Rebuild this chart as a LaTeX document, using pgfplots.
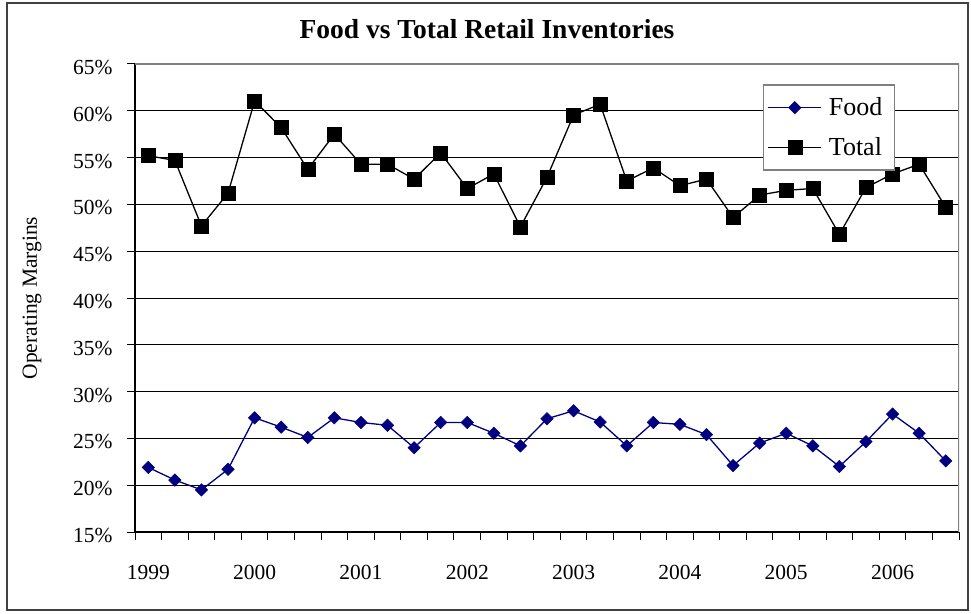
\documentclass[border=0pt]{standalone}
\usepackage{pgfplots}
\pgfplotsset{compat=1.18}
\usepackage{fontspec}
\setmainfont{Liberation Serif}
\definecolor{foodblue}{RGB}{0,0,128}
\definecolor{framegray}{RGB}{128,128,128}
\begin{document}
\begin{tikzpicture}
\useasboundingbox (0pt,0pt) rectangle (971pt,613pt);
\draw[line width=1.5pt, draw=black!75] (7pt,3pt) rectangle (968pt,610pt);
\node[font=\fontsize{27.5}{30}\selectfont\bfseries] at (487pt,584pt) {Food vs Total Retail Inventories};
\begin{axis}[
  at={(135pt,81pt)}, anchor=south west,
  width=824pt, height=468pt, scale only axis,
  xmin=-0.5, xmax=30.5, ymin=15, ymax=65,
  axis lines*=left,
  axis line style={line width=1.2pt, black},
  tick style={line width=1pt, black},
  tick align=outside,
  major tick length=8pt,
  xtick={-0.5,0.5,...,30.5},
  xticklabels={},
  extra x ticks={0,4,...,28},
  extra x tick labels={1999,2000,2001,2002,2003,2004,2005,2006},
  extra x tick style={major tick length=0pt, xticklabel style={yshift=-30pt}},
  ytick={15,20,...,65},
  yticklabels={15\%,20\%,25\%,30\%,35\%,40\%,45\%,50\%,55\%,60\%,65\%},
  yticklabel style={xshift=-11pt, yshift=-3.5pt},
  ymajorgrids,
  major grid style={line width=1pt, black},
  ticklabel style={font=\fontsize{21.5}{24}\selectfont},
  /pgf/number format/assume math mode=true,
  ylabel={Operating Margins},
  every axis y label/.style={at={(axis description cs:-0.125,0.5)}, rotate=90, anchor=center, font=\fontsize{21.5}{24}\selectfont},
  legend style={at={(axis description cs:0.9223,0.9566)}, anchor=north east,
    draw=framegray, line width=1.2pt, font=\fontsize{26}{28}\selectfont,
    inner xsep=4pt, inner ysep=10pt, row sep=14pt, column sep=4pt,
    nodes={inner sep=3pt}},
  legend cell align=left,
  legend image code/.code={\draw[#1, mark repeat=2, mark phase=2] plot coordinates {(0pt,0pt) (26.5pt,0pt) (53pt,0pt)};},
]
\addplot[color=foodblue, line width=1.3pt, mark=square*, mark size=4.4pt, mark options={rotate=45, fill=foodblue, draw=foodblue, line width=0.5pt}]
coordinates {
(0,21.9) (1,20.55) (2,19.5) (3,21.7) (4,27.2) (5,26.2) (6,25.1) (7,27.2)
(8,26.7) (9,26.4) (10,24.0) (11,26.7) (12,26.7) (13,25.55) (14,24.2) (15,27.1)
(16,27.95) (17,26.75) (18,24.2) (19,26.7) (20,26.5) (21,25.4) (22,22.1) (23,24.5)
(24,25.55) (25,24.2) (26,22.0) (27,24.65) (28,27.6) (29,25.55) (30,22.6)
};
\addlegendentry{Food\hspace*{5pt}}
\addplot[color=black, line width=1.3pt, mark=square*, mark size=7pt, mark options={fill=black, line width=0.5pt}]
coordinates {
(0,55.2) (1,54.7) (2,47.7) (3,51.2) (4,61.05) (5,58.2) (6,53.75) (7,57.5)
(8,54.3) (9,54.3) (10,52.7) (11,55.5) (12,51.7) (13,53.25) (14,47.6) (15,52.9)
(16,59.55) (17,60.7) (18,52.5) (19,53.9) (20,52.0) (21,52.7) (22,48.6) (23,51.0)
(24,51.5) (25,51.7) (26,46.8) (27,51.8) (28,53.25) (29,54.3) (30,49.7)
};
\addlegendentry{Total\hspace*{5pt}}
\draw[framegray, line width=1.2pt] (rel axis cs:0,1) -- (rel axis cs:1,1) -- (rel axis cs:1,0);
\end{axis}
\end{tikzpicture}
\end{document}
